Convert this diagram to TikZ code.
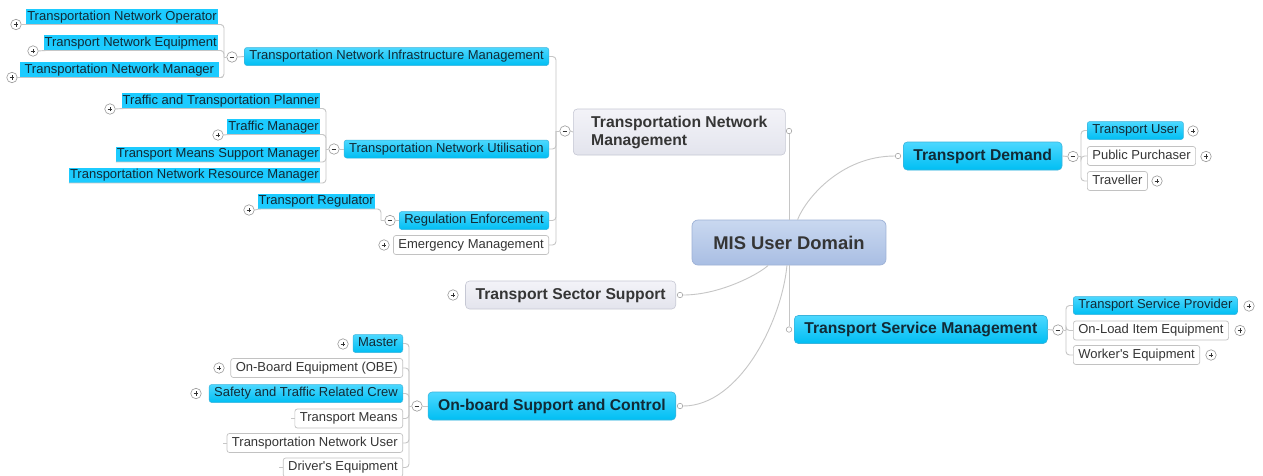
\documentclass[tikz,border=0pt]{standalone}
\usepackage{fontspec}
\setmainfont{Liberation Sans}

% palette
\definecolor{cyantop}{HTML}{4CD8FF}
\definecolor{cyanbot}{HTML}{00BEF3}
\definecolor{cyanedge}{HTML}{3AB4DC}
\definecolor{cyanflat}{HTML}{1CCBFF}
\definecolor{linegray}{HTML}{C6C6C6}
\definecolor{boxedge}{HTML}{C2C2C2}
\definecolor{inktext}{HTML}{353535}
\definecolor{cyantext}{HTML}{112A36}
\definecolor{graytop}{HTML}{F3F3F8}
\definecolor{graybot}{HTML}{E3E4ED}
\definecolor{grayedge}{HTML}{C6C8D4}
\definecolor{centertop}{HTML}{C9D8F0}
\definecolor{centerbot}{HTML}{A9BEE3}
\definecolor{centeredge}{HTML}{9DB1D6}

\tikzset{
  labelbase/.style={inner xsep=5pt, inner ysep=0pt, text height=9.6pt, text depth=2.9pt,
    font=\fontsize{13}{15}\selectfont},
  tagleaf/.style={labelbase, fill=cyanflat, inner xsep=1pt, minimum height=15pt, text=cyantext},
  cyanbox/.style={labelbase, rounded corners=2.5pt, top color=cyantop, bottom color=cyanbot,
    draw=cyanedge, line width=0.5pt, minimum height=18pt, text=cyantext},
  whitebox/.style={labelbase, rounded corners=2.5pt, fill=white, draw=boxedge,
    line width=0.7pt, minimum height=19pt, text=inktext},
  mmtopic/.style={rounded corners=4pt, inner xsep=10pt, inner ysep=0pt, minimum height=28pt,
    line width=0.6pt, font=\fontsize{15.7}{18}\selectfont\bfseries},
  oneline/.style={text height=11.5pt, text depth=3.4pt},
  cyantopic/.style={mmtopic, oneline, top color=cyantop, bottom color=cyanbot, draw=cyanedge, text=cyantext},
  graytopic/.style={mmtopic, top color=graytop, bottom color=graybot, draw=grayedge, text=inktext},
  centertopic/.style={rounded corners=6pt, minimum width=194pt, minimum height=45pt,
    top color=centertop, bottom color=centerbot, draw=centeredge, line width=0.7pt,
    text=inktext, font=\fontsize{18.4}{21}\selectfont\bfseries},
  mmtoggle/.style={circle, draw=black!40, fill=white, minimum size=10.5pt, inner sep=0pt, line width=0.6pt},
  plusbtn/.style={mmtoggle, path picture={
      \draw[line width=0.95pt, black!80]
        (path picture bounding box.center) ++(-2.3pt,0pt) -- ++(4.6pt,0pt)
        (path picture bounding box.center) ++(0pt,-2.3pt) -- ++(0pt,4.6pt);}},
  minusbtn/.style={mmtoggle, path picture={
      \draw[line width=0.95pt, black!80]
        (path picture bounding box.center) ++(-2.3pt,0pt) -- ++(4.6pt,0pt);}},
  mmjoint/.style={circle, draw=black!35, fill=white, minimum size=5.5pt, inner sep=0pt, line width=0.6pt},
  mmconn/.style={draw=linegray, line width=0.9pt},
  mmbracket/.style={mmconn, rounded corners=3.5pt}
}

\begin{document}
\begin{tikzpicture}[x=1pt,y=-1pt]
\useasboundingbox (0,0) rectangle (1263,475);
\fill[white] (0,0) rectangle (1263,475);

% ---------- central topic ----------
\node[centertopic] (mis) at (789,242.5) {MIS User Domain};

% ---------- Transportation Network Management ----------
\node[graytopic, align=left, minimum width=212pt, minimum height=46pt, anchor=west] (tnm) at (573,132)
  {Transportation Network\\Management};
\node[mmjoint] (c_tnm) at (789,131) {};
\node[minusbtn] (m_tnm) at (565,131) {};
\coordinate (b_tnm) at (556,131);

\node[cyanbox, anchor=east] (tnim) at (549,56.5) {Transportation Network Infrastructure Management};
\node[cyanbox, anchor=east] (tnu) at (549,149) {Transportation Network Utilisation};
\node[cyanbox, anchor=east] (re) at (549,220.5) {Regulation Enforcement};
\node[whitebox, anchor=east] (em) at (549,245) {Emergency Management};
\node[plusbtn] (p_em) at (384,245) {};

% infrastructure management branch
\node[minusbtn] (m_tnim) at (232,57) {};
\coordinate (b_tnim) at (224,57);
\node[tagleaf, anchor=south east] (tno) at (218,24.5) {Transportation Network Operator};
\node[tagleaf, anchor=south east] (tne) at (218,50.5) {Transport Network Equipment};
\node[tagleaf, anchor=south east, minimum width=199pt] (tnmgr) at (219,77.5) {Transportation Network Manager};
\node[plusbtn] (p_tno) at (16,24.5) {};
\node[plusbtn] (p_tne) at (33,51) {};
\node[plusbtn] (p_tnmgr) at (12,77.5) {};

% utilisation branch
\node[minusbtn] (m_tnu) at (334,149) {};
\coordinate (b_tnu) at (326,149);
\node[tagleaf, anchor=south east] (ttp) at (320,108.5) {Traffic and Transportation Planner};
\node[tagleaf, anchor=south east] (tmgr) at (320,134.5) {Traffic Manager};
\node[tagleaf, anchor=south east] (tmsm) at (320,162) {Transport Means Support Manager};
\node[tagleaf, anchor=south east] (tnrm) at (320,183) {Transportation Network Resource Manager};
\node[plusbtn] (p_ttp) at (110,109) {};
\node[plusbtn] (p_tmgr) at (218,135) {};

% regulation branch
\node[minusbtn] (m_re) at (390,220.5) {};
\coordinate (b_re) at (381,220.5);
\node[tagleaf, anchor=south east] (tr) at (375,209) {Transport Regulator};
\node[plusbtn] (p_tr) at (249,210) {};

% ---------- Transport Sector Support ----------
\node[graytopic, oneline, anchor=east] (tss) at (676,295) {Transport Sector Support};
\node[plusbtn] (p_tss) at (453,295) {};
\node[mmjoint] (c_tss) at (680,295) {};

% ---------- On-board Support and Control ----------
\node[cyantopic, anchor=east] (osc) at (676,406) {On-board Support and Control};
\node[mmjoint] (c_osc) at (680,406) {};
\node[minusbtn] (m_osc) at (417,406) {};
\coordinate (b_osc) at (409,406);
\node[cyanbox, anchor=east] (master) at (403,343.5) {Master};
\node[whitebox, anchor=east] (obe) at (403,368) {On-Board Equipment (OBE)};
\node[cyanbox, anchor=east] (stc) at (403,393.5) {Safety and Traffic Related Crew};
\node[whitebox, anchor=east] (tmeans) at (403,418.5) {Transport Means};
\node[whitebox, anchor=east] (tnuser) at (403,443) {Transportation Network User};
\node[whitebox, anchor=east] (drv) at (403,467.5) {Driver\textquotesingle s Equipment};
\node[plusbtn] (p_master) at (343,344) {};
\node[plusbtn] (p_obe) at (219,368) {};
\node[plusbtn] (p_stc) at (196,393.5) {};

% ---------- Transport Demand ----------
\node[cyantopic, anchor=west] (td) at (903,156) {Transport Demand};
\node[mmjoint] (c_td) at (898,156) {};
\node[minusbtn] (m_td) at (1073,156.5) {};
\coordinate (b_td) at (1081,156.5);
\node[cyanbox, anchor=west] (tu) at (1087,130.5) {Transport User};
\node[whitebox, anchor=west] (pp) at (1087,156) {Public Purchaser};
\node[whitebox, anchor=west] (tv) at (1087,181) {Traveller};
\node[plusbtn] (p_tu) at (1193,131) {};
\node[plusbtn] (p_pp) at (1206,156.5) {};
\node[plusbtn] (p_tv) at (1157,181) {};

% ---------- Transport Service Management ----------
\node[cyantopic, anchor=west] (tsm) at (794,329.5) {Transport Service Management};
\node[mmjoint] (c_tsm) at (789,329.5) {};
\node[minusbtn] (m_tsm) at (1058,330) {};
\coordinate (b_tsm) at (1066,330);
\node[cyanbox, anchor=west] (tsp) at (1073,305.5) {Transport Service Provider};
\node[whitebox, anchor=west] (olie) at (1073,330.5) {On-Load Item Equipment};
\node[whitebox, anchor=west] (we) at (1073,355) {Worker\textquotesingle s Equipment};
\node[plusbtn] (p_tsp) at (1249,306) {};
\node[plusbtn] (p_olie) at (1240,330.5) {};
\node[plusbtn] (p_we) at (1211,355) {};

% ---------- connectors from the central topic ----------
\draw[mmconn] (mis) -- (c_tnm);
\draw[mmconn] (mis) -- (c_tsm);
\draw[mmconn] (mis) .. controls (805,200) and (840,156) .. (c_td);
\draw[mmconn] (mis) .. controls (762,272) and (722,295) .. (c_tss);
\draw[mmconn] (mis) .. controls (782,320) and (740,406) .. (c_osc);

% ---------- Transportation Network Management brackets ----------
\draw[mmconn] (tnm.west) -- (m_tnm.east);
\draw[mmconn] (m_tnm.west) -- (b_tnm);
\foreach \n in {tnim,tnu,re,em} \draw[mmbracket] (\n.east) -| (b_tnm);

\draw[mmconn] (tnim.west) -- (m_tnim.east);
\draw[mmconn] (m_tnim.west) -- (b_tnim);
\draw[mmbracket] (p_tno.east) -- (tno.south west) -- (tno.south east) -| (b_tnim);
\draw[mmbracket] (p_tne.east) -- (tne.south west) -- (tne.south east) -| (b_tnim);
\draw[mmbracket] (p_tnmgr.east) -- (tnmgr.south west) -- (tnmgr.south east) -| (b_tnim);

\draw[mmconn] (tnu.west) -- (m_tnu.east);
\draw[mmconn] (m_tnu.west) -- (b_tnu);
\draw[mmbracket] (p_ttp.east) -- (ttp.south west) -- (ttp.south east) -| (b_tnu);
\draw[mmbracket] (p_tmgr.east) -- (tmgr.south west) -- (tmgr.south east) -| (b_tnu);
\draw[mmbracket] (tmsm.south west) -- (tmsm.south east) -| (b_tnu);
\draw[mmbracket] (tnrm.south west) -- (tnrm.south east) -| (b_tnu);

\draw[mmconn] (re.west) -- (m_re.east);
\draw[mmconn] (m_re.west) -- (b_re);
\draw[mmbracket] (p_tr.east) -- (tr.south west) -- (tr.south east) -| (b_re);

% ---------- On-board Support and Control brackets ----------
\draw[mmconn] (osc.west) -- (m_osc.east);
\draw[mmconn] (m_osc.west) -- (b_osc);
\foreach \n in {master,obe,stc,tmeans,tnuser,drv} \draw[mmbracket] (\n.east) -| (b_osc);
\foreach \n in {tmeans,tnuser,drv} \draw[mmconn] (\n.west) -- ++(-4,0);

% ---------- right-hand brackets ----------
\draw[mmconn] (td.east) -- (m_td.west);
\draw[mmconn] (m_td.east) -- (b_td);
\foreach \n in {tu,pp,tv} \draw[mmbracket] (b_td) |- (\n.west);

\draw[mmconn] (tsm.east) -- (m_tsm.west);
\draw[mmconn] (m_tsm.east) -- (b_tsm);
\foreach \n in {tsp,olie,we} \draw[mmbracket] (b_tsm) |- (\n.west);
\end{tikzpicture}
\end{document}
